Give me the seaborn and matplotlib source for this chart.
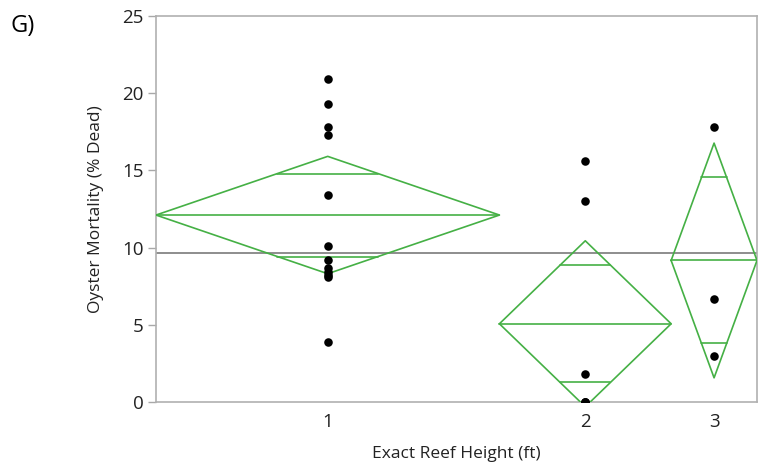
import numpy as np
import pandas as pd
import matplotlib
matplotlib.use("Agg")
import matplotlib.pyplot as plt
import seaborn as sns

# Data
heights = ["1", "2", "3"]
mort_h1 = [20.9, 19.3, 17.8, 17.3, 13.4, 10.1, 9.2, 8.7, 8.4, 8.2, 8.1, 3.9]
mort_h2 = [15.6, 13.0, 1.8, 0.0, 0.0, 0.0]
mort_h3 = [17.8, 6.7, 3.0]
t_crit = 2.101  # t(0.975, df=18)

groups = [mort_h1, mort_h2, mort_h3]
sizes = np.array([len(g) for g in groups])
edges = np.concatenate([[0], np.cumsum(sizes)])
centers = (edges[:-1] + edges[1:]) / 2

rows = []
for lab, c, g in zip(heights, centers, groups):
    for v in g:
        rows.append({"height": lab, "x": c, "mortality": v})
df = pd.DataFrame(rows)

means = np.array([np.mean(g) for g in groups])
sse = sum(np.sum((np.array(g) - np.mean(g)) ** 2) for g in groups)
dfe = sizes.sum() - len(groups)
rmse = np.sqrt(sse / dfe)
half = t_crit * rmse / np.sqrt(sizes)
grand = df["mortality"].mean()

sns.set_style("white")
plt.rcParams["font.family"] = ["Open Sans", "DejaVu Sans"]

fig = plt.figure(figsize=(7.69, 4.69), dpi=100)
ax = fig.add_axes([156 / 769, 1 - 402 / 469, 601 / 769, 386 / 469])

green = "#45b045"
ax.axhline(grand, color="#7a7a7a", lw=1.2, zorder=2)
for lo, hi, c, m, h in zip(edges[:-1], edges[1:], centers, means, half):
    ax.plot([lo, c, hi, c, lo], [m, m + h, m, m - h, m], color=green, lw=1.2, zorder=3)
    ax.plot([lo, hi], [m, m], color=green, lw=1.2, zorder=3)
    w = (hi - lo) / 2 * (1 - 1 / np.sqrt(2))
    d = h / np.sqrt(2)
    ax.plot([c - w, c + w], [m + d, m + d], color=green, lw=1.2, zorder=3)
    ax.plot([c - w, c + w], [m - d, m - d], color=green, lw=1.2, zorder=3)

sns.scatterplot(data=df, x="x", y="mortality", color="black", s=38,
                edgecolor="black", linewidth=0, ax=ax, zorder=4, clip_on=True)

ax.set_xlim(edges[0], edges[-1])
ax.set_ylim(0, 25)
ax.set_yticks([0, 5, 10, 15, 20, 25])
ax.set_xticks(centers)
ax.set_xticklabels(heights)
ax.set_xticks(edges[1:-1], minor=True)
ax.tick_params(axis="x", which="major", length=0, pad=8, labelsize=13.5, labelcolor="#222222")
ax.tick_params(axis="x", which="minor", length=6, width=1, color="#a8a8a8", direction="out")
ax.tick_params(axis="y", length=6, width=1, color="#a8a8a8", direction="out", left=True,
               labelsize=13.5, labelcolor="#222222", pad=3)
for s in ax.spines.values():
    s.set_color("#b0b0b0")
    s.set_linewidth(1.2)
ax.set_xlabel("Exact Reef Height (ft)", fontsize=12.5, color="#222222", labelpad=11)
ax.set_ylabel("Oyster Mortality (% Dead)", fontsize=12.5, color="#222222", labelpad=13)
fig.text(10 / 769, 1 - 26 / 469, "G)", fontsize=17, va="center", ha="left", color="black")

fig.savefig("out.png", dpi=100)
